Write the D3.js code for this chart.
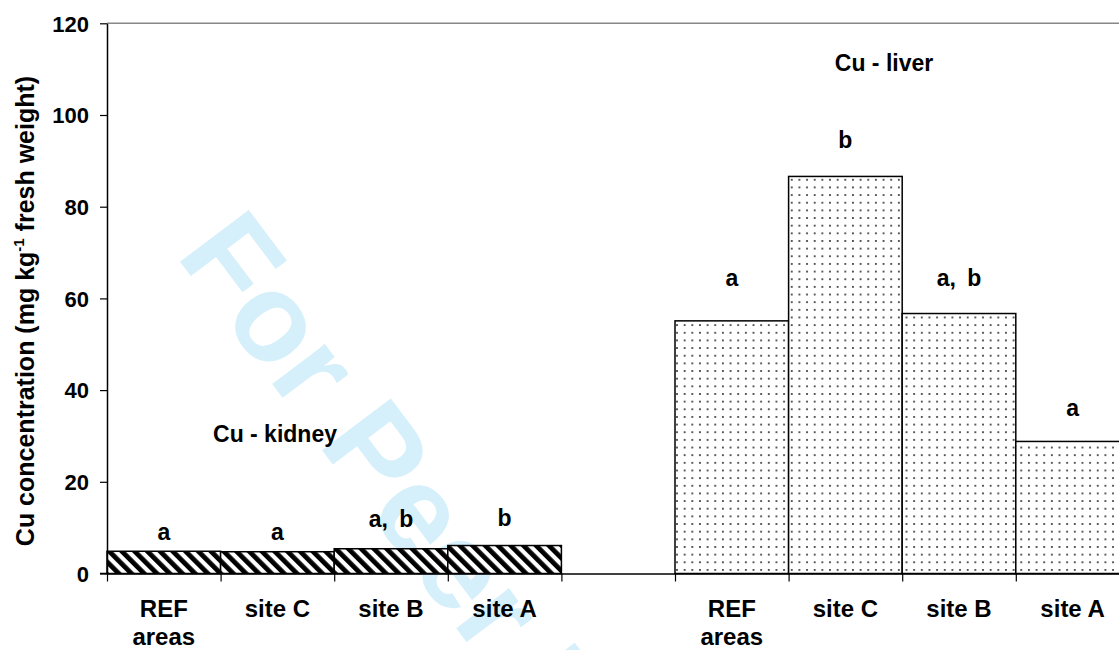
<!DOCTYPE html>
<html><head><meta charset="utf-8">
<script src="https://cdn.jsdelivr.net/npm/d3@7"></script>
<style>
body{margin:0;background:#fff;}
svg{display:block;}
text{font-family:"Liberation Sans",Arial,Helvetica,sans-serif;font-weight:bold;fill:#000;}
</style></head>
<body>
<svg id="chart" width="1119" height="650"></svg>
<script>
// ---- data ----
const sites = ["REF areas", "site C", "site B", "site A"];
const kidneyValues = [4.85, 4.75, 5.4, 6.1];
const liverValues = [55.1, 86.6, 56.7, 28.8];
const kidneyLetters = ["a", "a", "a, b", "b"];
const liverLetters = ["a", "b", "a, b", "a"];
const kidneyLetterAt = [9.05, 9.05, 11.9, 12.1];
const liverLetterAt = [64.4, 94.5, 64.4, 36.1];
const yTicks = [0, 20, 40, 60, 80, 100, 120];
const groupTitles = ["Cu - kidney", "Cu - liver"];

// ---- layout ----
const W = 1119, H = 650;
const mLeft = 107, mTop = 23.3, mBottom = 573.5;
const slotW = 113.6;
const svg = d3.select("#chart");

const slots = [];
sites.forEach(s => slots.push("kidney|" + s));
slots.push("gap");
sites.forEach(s => slots.push("liver|" + s));

const x = d3.scaleBand().domain(slots).range([mLeft, mLeft + slots.length * slotW]).paddingInner(0).paddingOuter(0);
const xIdx = d3.scaleLinear().domain([0, slots.length]).range([mLeft, mLeft + slots.length * slotW]);
const y = d3.scaleLinear().domain([0, 120]).range([mBottom, mTop]);

// patterns
const defs = svg.append("defs");
const hatch = defs.append("pattern").attr("id", "hatch").attr("patternUnits", "userSpaceOnUse")
  .attr("width", 9).attr("height", 9).attr("patternTransform", "rotate(-45)");
hatch.append("rect").attr("width", 9).attr("height", 9).attr("fill", "#fff");
hatch.append("rect").attr("x", 0).attr("y", 0).attr("width", 4.8).attr("height", 9).attr("fill", "#000");
const dots = defs.append("pattern").attr("id", "dots").attr("patternUnits", "userSpaceOnUse")
  .attr("width", 7.65).attr("height", 7.65);
dots.append("rect").attr("width", 7.65).attr("height", 7.65).attr("fill", "#fff");
dots.append("circle").attr("cx", 3.8).attr("cy", 3.8).attr("r", 1.05).attr("fill", "#333");

// watermark
svg.append("text")
  .attr("transform", "translate(175,255) rotate(53)")
  .attr("font-size", 125)
  .style("fill", "#d6f0fb")
  .text("For Peer Review");

// plot top border
svg.append("line").attr("x1", mLeft).attr("x2", W).attr("y1", y(120)).attr("y2", y(120))
  .attr("stroke", "#888").attr("stroke-width", 1.5);

// bars
const kidneyData = sites.map((s, i) => ({key: "kidney|" + s, v: kidneyValues[i], letter: kidneyLetters[i], la: kidneyLetterAt[i]}));
const liverData = sites.map((s, i) => ({key: "liver|" + s, v: liverValues[i], letter: liverLetters[i], la: liverLetterAt[i]}));

svg.append("g").selectAll("rect").data(kidneyData).join("rect")
  .attr("x", d => x(d.key)).attr("width", x.bandwidth())
  .attr("y", d => y(d.v)).attr("height", d => y(0) - y(d.v))
  .attr("fill", "url(#hatch)").attr("stroke", "#000").attr("stroke-width", 1.5);
svg.append("g").selectAll("rect").data(liverData).join("rect")
  .attr("x", d => x(d.key)).attr("width", x.bandwidth())
  .attr("y", d => y(d.v)).attr("height", d => y(0) - y(d.v))
  .attr("fill", "url(#dots)").attr("stroke", "#000").attr("stroke-width", 1.5);

// letters
svg.append("g").selectAll("text").data(kidneyData.concat(liverData)).join("text")
  .attr("x", d => x(d.key) + x.bandwidth() / 2).attr("y", d => y(d.la))
  .attr("text-anchor", "middle").attr("dominant-baseline", "central")
  .attr("font-size", 23).attr("word-spacing", 5).text(d => d.letter);

// y axis
const yAxis = svg.append("g").attr("transform", `translate(${mLeft},0)`)
  .call(d3.axisLeft(y).tickValues(yTicks).tickSize(7).tickSizeOuter(0).tickPadding(11));
yAxis.attr("font-family", null).attr("font-size", null);
yAxis.select(".domain").attr("stroke", "#000").attr("stroke-width", 1.5);
yAxis.selectAll(".tick line").attr("stroke", "#000").attr("stroke-width", 1.2);
yAxis.selectAll(".tick text").attr("font-size", 22).attr("dy", "0.35em");

// x axis (ticks at slot boundaries)
const xAxis = svg.append("g").attr("transform", `translate(0,${mBottom})`)
  .call(d3.axisBottom(xIdx).tickValues(d3.range(0, slots.length + 1)).tickSize(8).tickSizeOuter(0).tickFormat(""));
xAxis.select(".domain").attr("stroke", "#000").attr("stroke-width", 1.5);
xAxis.selectAll(".tick line").attr("stroke", "#000").attr("stroke-width", 1.2);
svg.append("line").attr("x1", mLeft - 7).attr("x2", mLeft).attr("y1", mBottom).attr("y2", mBottom)
  .attr("stroke", "#000").attr("stroke-width", 1.5);

// x labels
const labelG = svg.append("g");
slots.filter(k => k !== "gap").forEach(k => {
  const name = k.split("|")[1];
  const cx = x(k) + x.bandwidth() / 2;
  const t = labelG.append("text").attr("x", cx).attr("y", 617)
    .attr("text-anchor", "middle").attr("font-size", 24);
  const parts = name === "REF areas" ? ["REF", "areas"] : [name];
  parts.forEach((p, i) => t.append("tspan").attr("x", cx).attr("dy", i ? 28 : 0).text(p));
});

// group titles
svg.append("text").attr("x", 275).attr("y", 442).attr("text-anchor", "middle").attr("font-size", 23).text(groupTitles[0]);
svg.append("text").attr("x", 884).attr("y", 71).attr("text-anchor", "middle").attr("font-size", 23).text(groupTitles[1]);

// y label
const yl = svg.append("text").attr("transform", "translate(34,311) rotate(-90)")
  .attr("text-anchor", "middle").attr("font-size", 25);
yl.append("tspan").text("Cu concentration (mg kg");
yl.append("tspan").attr("font-size", 15).attr("dy", -10).text("-1");
yl.append("tspan").attr("dy", 10).text(" fresh weight)");
</script>
</body></html>
